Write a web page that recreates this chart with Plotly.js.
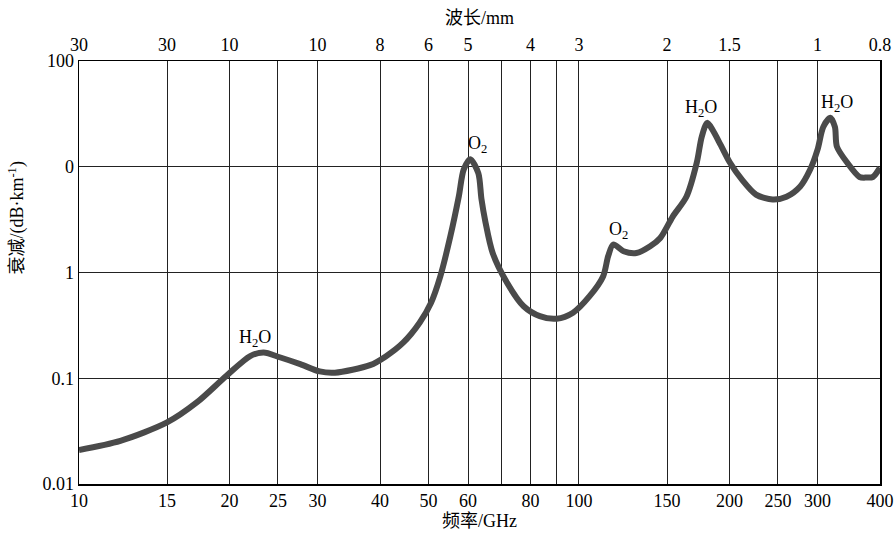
<!DOCTYPE html>
<html>
<head>
<meta charset="utf-8">
<script src="https://cdn.plot.ly/plotly-3.0.1.min.js"></script>
<style>html,body{margin:0;padding:0;background:#fff;}#chart{width:894px;height:534px;}</style>
</head>
<body>
<div id="chart"></div>
<script>
// Frequency (GHz) and attenuation (dB/km)
const freq = [10, 12.1, 15, 17.2, 19.7, 22, 23.4, 25.2, 27.7, 30.3, 32.5, 38.2, 41, 44.5, 48, 50.6, 52.8, 55.3, 57.5, 58.8, 60.6, 62.9, 63.8, 65, 67.2, 71.8, 77.5, 83.5, 90.2, 97.3, 105, 111.8, 114.4, 117.1, 122.8, 130.3, 138.8, 145.4, 154, 164, 172, 176, 180.5, 185, 192, 200.5, 212, 226, 244, 260, 277, 290, 300, 308, 318, 325, 328, 344, 364, 376, 387, 400];
const atten = [0.021, 0.0256, 0.0382, 0.059, 0.105, 0.162, 0.175, 0.158, 0.136, 0.116, 0.113, 0.133, 0.16, 0.217, 0.335, 0.518, 0.92, 2.2, 5.25, 9.4, 11.8, 8.7, 5.0, 3.0, 1.53, 0.80, 0.48, 0.387, 0.366, 0.417, 0.597, 0.923, 1.43, 1.84, 1.59, 1.53, 1.77, 2.12, 3.38, 5.2, 10.9, 19.2, 26, 22.3, 16.1, 10.9, 7.5, 5.45, 4.9, 5.2, 6.5, 9.4, 14.5, 23.8, 29, 23.8, 15.5, 10.9, 8.0, 7.9, 8.0, 9.8];

// bottom axis ticks (GHz)
const freqTicks = [10, 15, 20, 25, 30, 40, 50, 60, 80, 100, 150, 200, 250, 300, 400];
const freqTickText = ['10', '15', '20', '25', '30', '40', '50', '60', '80', '100', '150', '200', '250', '300', '400'];
// extra unlabeled grid lines (GHz)
const freqExtraGrid = [70, 90];
// top axis (wavelength) labels as printed
const waveTicks = [10, 15, 20, 30, 40, 50, 60, 80, 100, 150, 200, 300, 400];
const waveTickText = ['30', '30', '10', '10', '8', '6', '5', '4', '3', '2', '1.5', '1', '0.8'];
// y axis labels as printed
const attTicks = [0.01, 0.1, 1, 10, 100];
const attTickText = ['0.01', '0.1', '1', '0', '100'];

// peak labels
const peakLabels = ['H<sub>2</sub>O', 'O<sub>2</sub>', 'O<sub>2</sub>', 'H<sub>2</sub>O', 'H<sub>2</sub>O'];
const peakFreq = [23.4, 60.6, 117.1, 180.5, 318];
const peakAtt = [0.175, 11.8, 1.84, 26, 29];
const peakShift = [-9, 7, 5, -6, 7];

const serif = 'Liberation Serif, Times New Roman, Noto Sans CJK SC, serif';

const traces = [
  {
    x: freq, y: atten, type: 'scatter', mode: 'lines',
    line: {color: '#4a4a4a', width: 6, shape: 'spline', smoothing: 0.8},
    hoverinfo: 'skip', showlegend: false
  },
  {
    x: freq, y: atten, xaxis: 'x2', type: 'scatter', mode: 'lines',
    line: {width: 0}, opacity: 0, hoverinfo: 'skip', showlegend: false
  }
];

const annotations = peakLabels.map((t, i) => ({
  x: Math.log10(peakFreq[i]), y: Math.log10(peakAtt[i]), xref: 'x', yref: 'y',
  text: t, showarrow: false, yanchor: 'bottom', yshift: 1, xshift: peakShift[i],
  font: {family: serif, size: 18, color: '#000'}
}));
annotations.push({
  x: -0.096, y: 0.63, xref: 'paper', yref: 'paper', textangle: -90,
  text: '衰减/(dB·km<sup>-1</sup>)', showarrow: false,
  font: {family: serif, size: 18, color: '#000'}
});

const layout = {
  width: 894, height: 534,
  margin: {l: 79, r: 14, t: 61, b: 50},
  paper_bgcolor: '#fff', plot_bgcolor: '#fff',
  xaxis: {
    type: 'log', range: [1, Math.log10(400)],
    tickmode: 'array', tickvals: freqTicks, ticktext: freqTickText, ticks: '',
    showgrid: true, gridcolor: '#222', gridwidth: 1,
    minor: {tickmode: 'array', tickvals: freqExtraGrid, showgrid: true, gridcolor: '#222', gridwidth: 1, ticks: ''},
    showline: true, linecolor: '#000', linewidth: 1.5, mirror: true,
    zeroline: false,
    tickfont: {family: serif, size: 18, color: '#000'},
    title: {text: '频率/GHz', font: {family: serif, size: 18, color: '#000'}, standoff: 2}
  },
  xaxis2: {
    type: 'log', range: [1, Math.log10(400)], overlaying: 'x', side: 'top',
    tickmode: 'array', tickvals: waveTicks, ticktext: waveTickText, ticks: '',
    ticklabelstandoff: 5,
    showgrid: false, showline: false, zeroline: false,
    tickfont: {family: serif, size: 18, color: '#000'},
    title: {text: '波长/mm', font: {family: serif, size: 18, color: '#000'}, standoff: 6}
  },
  yaxis: {
    type: 'log', range: [-2, 2],
    tickmode: 'array', tickvals: attTicks, ticktext: attTickText, ticks: '',
    showgrid: true, gridcolor: '#222', gridwidth: 1,
    showline: true, linecolor: '#000', linewidth: 1.5, mirror: true,
    zeroline: false,
    tickfont: {family: serif, size: 18, color: '#000'}
  },
  annotations: annotations
};

Plotly.newPlot('chart', traces, layout, {staticPlot: true, displayModeBar: false});
</script>
</body>
</html>
